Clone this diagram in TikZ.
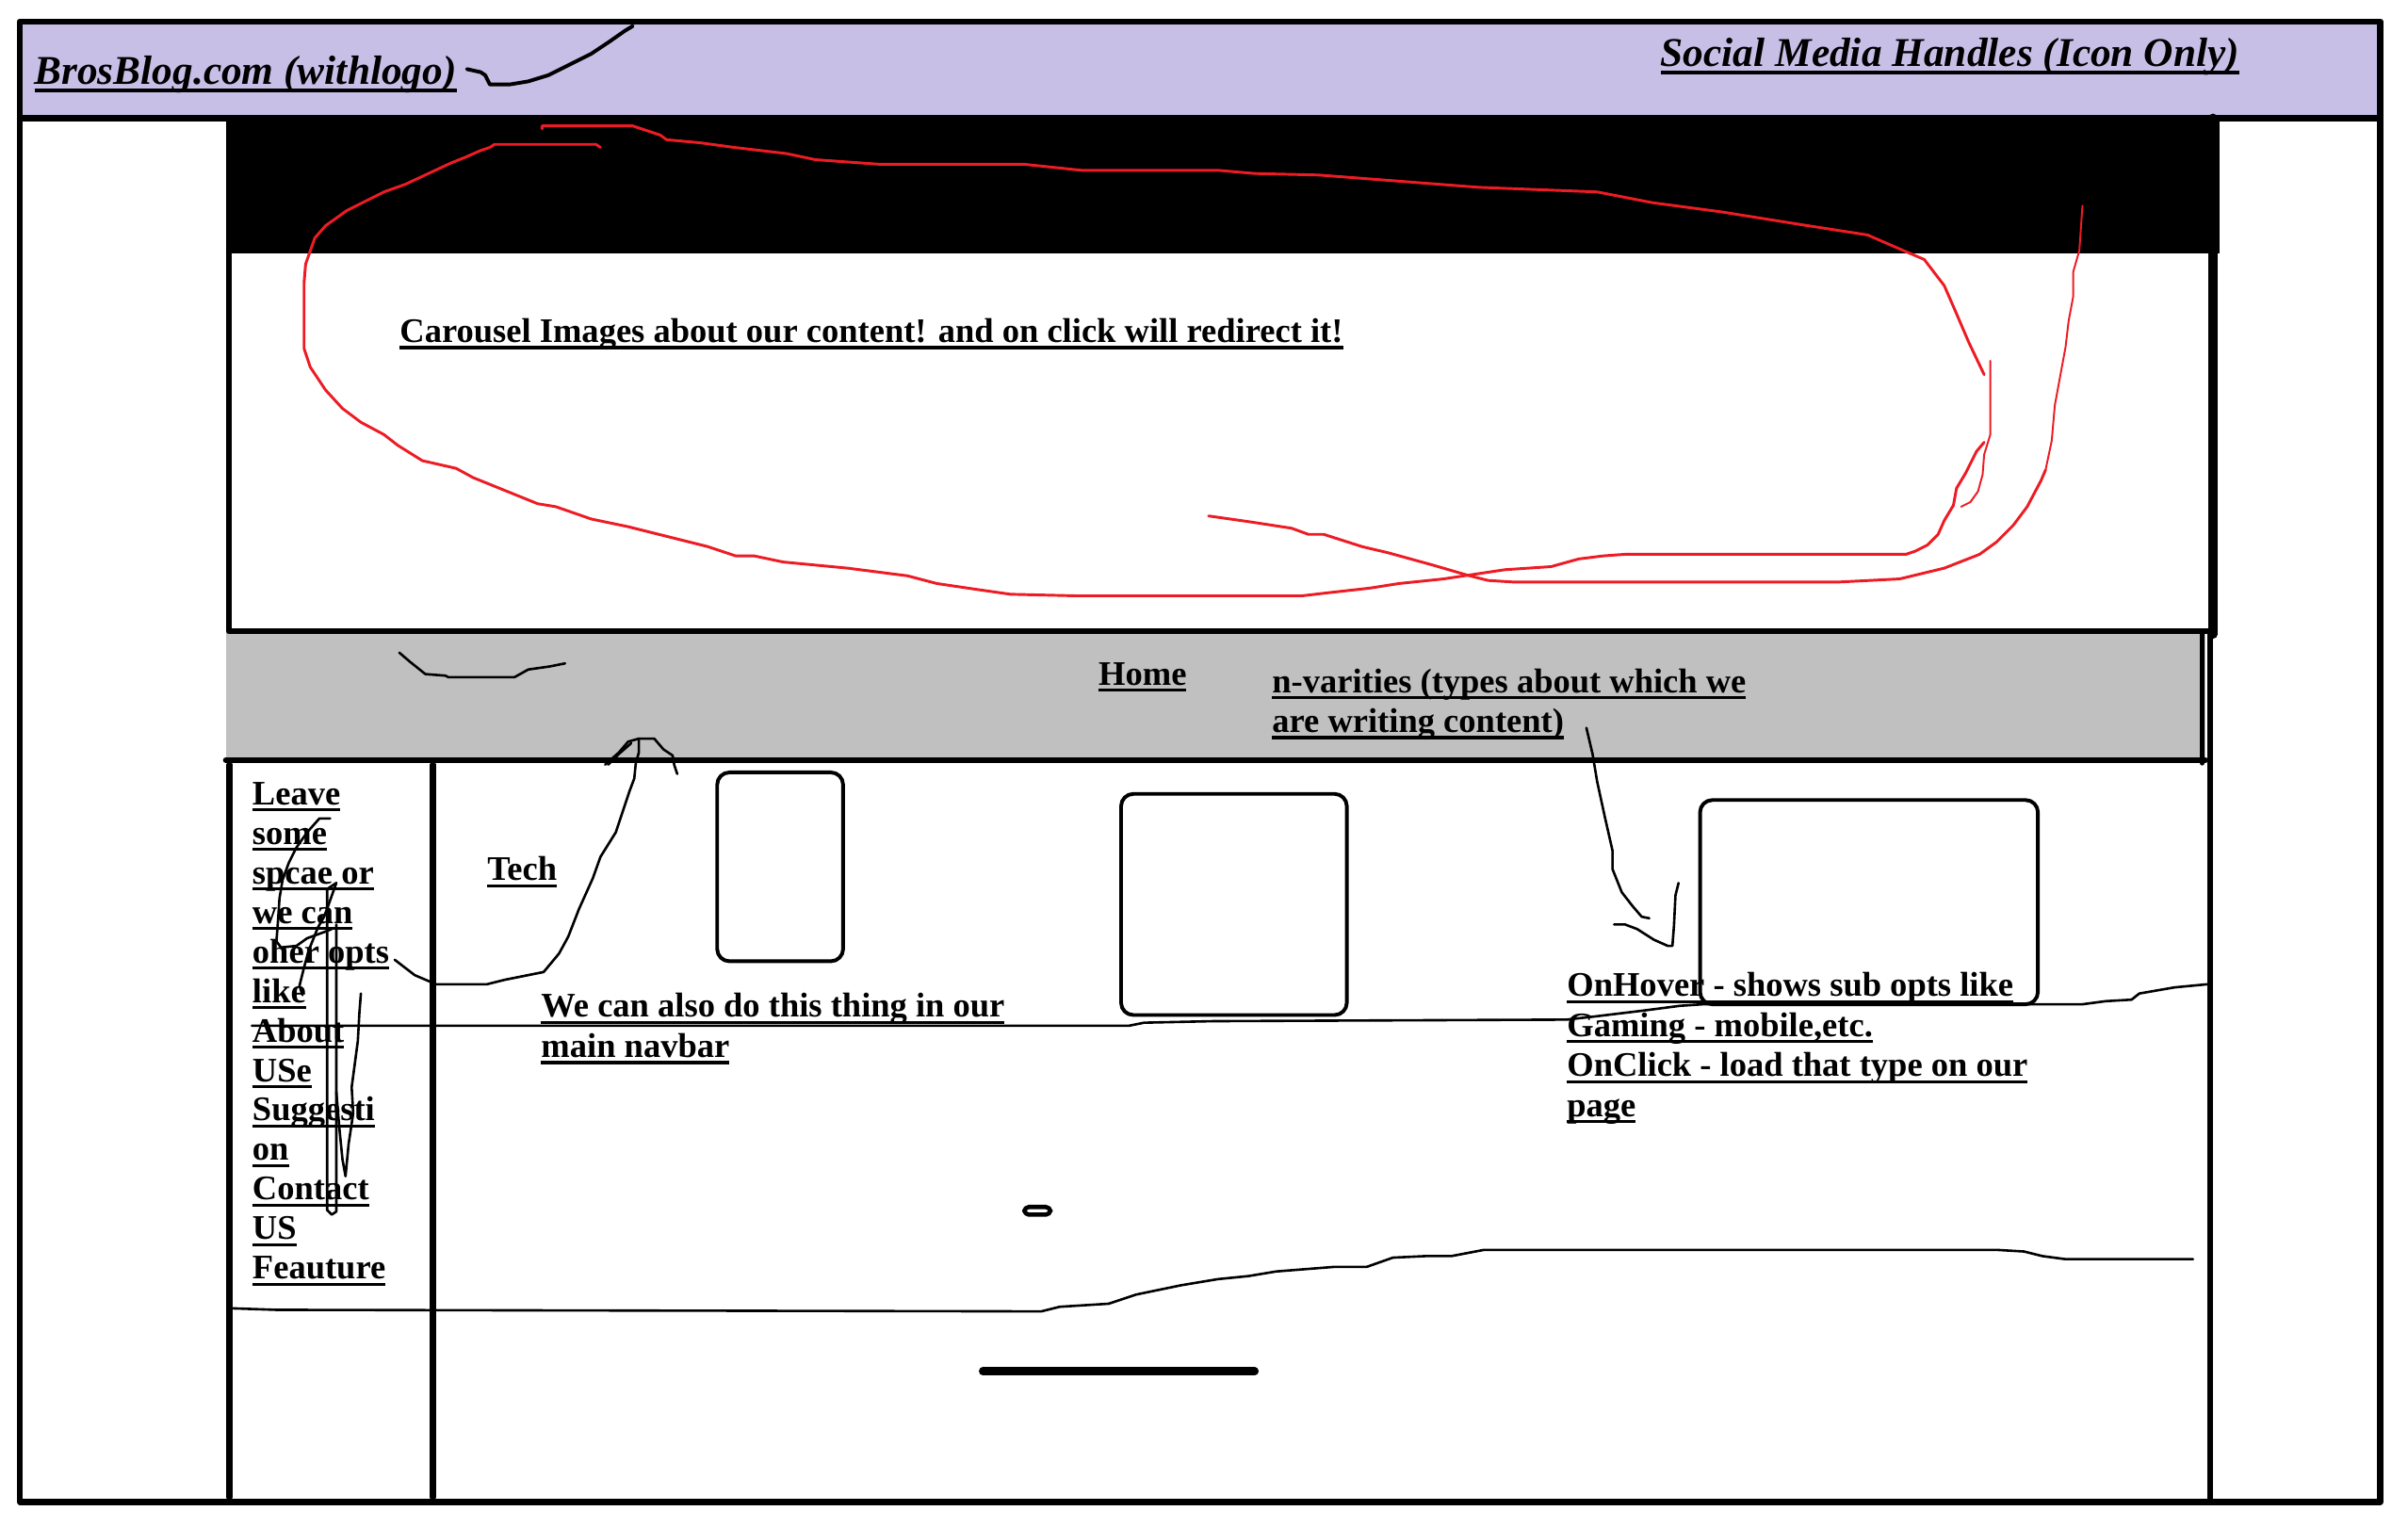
\documentclass[tikz,border=0pt]{standalone}
\usepackage{fontspec}
\setmainfont{Liberation Serif}
\newcommand{\undl}[1]{\leavevmode\setbox0=\hbox{#1}\rlap{\vrule height -1.2pt depth 2.2pt width \wd0}\box0}
\newcommand{\undlh}[1]{\leavevmode\setbox0=\hbox{#1}\rlap{\vrule height -1.4pt depth 2.6pt width \wd0}\box0}
\definecolor{lav}{RGB}{200,191,231}
\definecolor{silvergray}{RGB}{192,192,192}
\definecolor{pred}{RGB}{237,28,36}
\tikzset{
  txt/.style={anchor=base west, inner sep=0pt, font=\bfseries\fontsize{11.2}{13}\selectfont},
  headtxt/.style={anchor=base west, inner sep=0pt, font=\bfseries\itshape\fontsize{13.3}{15}\selectfont},
  heavy/.style={line width=2pt},
  medium/.style={line width=1.8pt},
  card/.style={line width=1.2pt, rounded corners=4pt},
  thinline/.style={line width=0.8pt},
  scribble/.style={line width=0.8pt},
  redmark/.style={draw=pred, line width=0.9pt},
  redthin/.style={draw=pred, line width=0.6pt}
}
\begin{document}
\begin{tikzpicture}[x=0.5pt,y=-0.5pt,line join=round,line cap=round]
\useasboundingbox (0,0) rectangle (1568,994);
\fill[white] (0,0) rectangle (1568,994);
% backgrounds
\fill[lav] (13,14) rectangle (1550,77);
\fill[black] (147,77) rectangle (1445,165);
\fill[silvergray] (147,411) rectangle (1436,495);

% texts
\node[headtxt] (brand) at (22,55) {\undlh{BrosBlog.com (withlogo)}};
\node[headtxt] (social) at (1081,43) {\undlh{Social Media Handles (Icon Only)}};
\node[txt] (carousel) at (260,223) {\undl{Carousel Images about our content! and on click will redirect it!}};
\node[txt] (home) at (715,446) {\undl{Home}};
\node[txt] (nvar1) at (828,451) {\undl{n-varities (types about which we}};
\node[txt] (nvar2) at (828,477) {\undl{are writing content)}};
\node[txt] (tech) at (317,573.5) {\undl{Tech}};
\node[txt] (wecan1) at (352,662.5) {\undl{We can also do this thing in our}};
\node[txt] (wecan2) at (352,688.5) {\undl{main navbar}};
\node[txt] (hover1) at (1020,649) {\undl{OnHover - shows sub opts like}};
\node[txt] (hover2) at (1020,675) {\undl{Gaming - mobile,etc.}};
\node[txt] (hover3) at (1020,701) {\undl{OnClick - load that type on our}};
\node[txt] (hover4) at (1020,727) {\undl{page}};
\node[txt] (l1) at (164,524) {\undl{Leave}};
\node[txt] (l2) at (164,549.75) {\undl{some}};
\node[txt] (l3) at (164,575.5) {\undl{spcae or}};
\node[txt] (l4) at (164,601.25) {\undl{we can}};
\node[txt] (l5) at (164,627) {\undl{oher opts}};
\node[txt] (l6) at (164,652.75) {\undl{like}};
\node[txt] (l7) at (164,678.5) {\undl{About}};
\node[txt] (l8) at (164,704.25) {\undl{USe}};
\node[txt] (l9) at (164,730) {\undl{Suggesti}};
\node[txt] (l10) at (164,755.75) {\undl{on}};
\node[txt] (l11) at (164,781.5) {\undl{Contact}};
\node[txt] (l12) at (164,807.25) {\undl{US}};
\node[txt] (l13) at (164,833) {\undl{Feauture}};

% frame and structure
\draw[heavy] (13,14) rectangle (1550,978);
\draw[heavy] (13,77) -- (1550,77);
\draw[heavy] (149,165) -- (149,411) -- (1441,411);
\draw[line width=3pt] (1441,77) -- (1441,413);
\draw[medium] (1439,411) -- (1439,978);
\draw[medium] (147,495) -- (1436,495);
\draw[line width=1.5pt] (1434,411) -- (1434,497);
\draw[heavy] (149.5,498) -- (149.5,975);
\draw[heavy] (282,498) -- (282,975);

% cards
\draw[card] (467,503) rectangle (549,626);
\draw[card] (730,517) rectangle (877,661);
\draw[card] (1107,521) rectangle (1327,654);
\draw[line width=1.4pt, rounded corners=1.5pt] (667,786) rectangle (684,791);
\draw[line width=2.6pt] (640,893) -- (817,893);

% thin horizontal lines
\draw[thinline] (164,668) -- (735,668) -- (745,666) -- (790,665) -- (1020,664) -- (1038,662) -- (1071,658) -- (1094,655) -- (1109,654) -- (1356,654) -- (1371,652) -- (1388,651) -- (1393,647) -- (1416,643) -- (1437,641);
\draw[thinline] (151,852) -- (180,853) -- (678,854) -- (690,851) -- (722,849) -- (740,843) -- (769,837) -- (793,833) -- (813,831) -- (831,828) -- (869,825) -- (890,825) -- (907,819) -- (928,818) -- (945,818) -- (966,814) -- (1301,814) -- (1318,815) -- (1330,818) -- (1345,820) -- (1428,820);

% black scribbles
\draw[line width=1.2pt] (304,45) -- (313,47) -- (316,49) -- (319,55) -- (332,55) -- (344,53) -- (357,49) -- (369,43) -- (385,35) -- (397,27) -- (407,20) -- (412,17);
\draw[scribble] (260,425) -- (267,431) -- (277,439) -- (290,440) -- (292,441) -- (335,441) -- (344,436) -- (358,434) -- (368,432);
\draw[scribble] (394,498) -- (403,490) -- (409,483) -- (416,481) -- (426,481) -- (432,488) -- (438,492) -- (439,498) -- (441,504);
\draw[scribble] (396,498) -- (403,491) -- (411,484);
\draw[scribble] (257,625) -- (270,635) -- (284,641) -- (317,641) -- (329,638) -- (354,633) -- (364,621) -- (370,610) -- (377,592) -- (386,572) -- (391,558) -- (401,542) -- (405,530) -- (410,515) -- (413,507) -- (414,497) -- (416,490) -- (416,481);
\draw[scribble] (215,533) -- (208,533) -- (200,542) -- (193,552) -- (188,562) -- (184,573) -- (182,585) -- (181,600) -- (180,613) -- (183,617) -- (193,616) -- (200,611) -- (211,607) -- (216,605);
\draw[scribble] (219,575) -- (213,579) -- (213,788) -- (216,791) -- (219,789) -- (219,602);
\draw[scribble] (195,642) -- (198,630) -- (201,619) -- (207,604) -- (211,597) -- (214,589) -- (219,575);
\draw[scribble] (195,642) -- (197,648);
\draw[scribble] (235,647) -- (234,660) -- (233,678) -- (229,708) -- (230,725) -- (227,745) -- (225,766) -- (223,755) -- (221,735) -- (219,711);
\draw[scribble] (1033,474) -- (1037,491) -- (1040,509) -- (1045,532) -- (1050,554) -- (1050,566) -- (1056,581) -- (1063,590) -- (1069,597) -- (1074,598);
\draw[scribble] (1051,602) -- (1058,602) -- (1066,605) -- (1077,612) -- (1086,616) -- (1089,616) -- (1090,603) -- (1091,583) -- (1093,575);

% red marks
\draw[redmark] (353,84) -- (353,82) -- (412,82) -- (430,88) -- (434,91) -- (456,93) -- (478,96) -- (512,100) -- (531,104) -- (573,107) -- (667,107) -- (705,111) -- (794,111) -- (817,113) -- (859,114) -- (963,122) -- (1040,125) -- (1076,132) -- (1121,138) -- (1171,146) -- (1216,153) -- (1239,163) -- (1253,169) -- (1266,186) -- (1273,202) -- (1282,223) -- (1292,244);
\draw[redmark] (391,96) -- (388,94) -- (322,94) -- (319,96) -- (313,98) -- (304,102) -- (294,106) -- (264,120) -- (250,125) -- (238,131) -- (226,137) -- (212,147) -- (205,155) -- (199,172) -- (198,184) -- (198,227) -- (202,239) -- (212,254) -- (223,266) -- (235,275) -- (250,283) -- (259,290) -- (275,300) -- (297,305) -- (308,311) -- (350,328) -- (362,330) -- (385,338) -- (409,343) -- (461,356) -- (479,362) -- (491,362) -- (510,366) -- (531,368) -- (552,370) -- (591,375) -- (610,380) -- (637,384) -- (658,387) -- (700,388) -- (848,388) -- (865,386) -- (892,383) -- (911,380) -- (940,377) -- (980,371) -- (1010,369) -- (1028,364) -- (1044,362) -- (1058,361) -- (1241,361) -- (1247,359) -- (1255,355) -- (1262,348) -- (1266,339) -- (1272,329) -- (1274,318) -- (1280,308) -- (1287,294) -- (1292,288);
\draw[redthin] (1296,235) -- (1296,283) -- (1292,296) -- (1291,309) -- (1288,320) -- (1283,327) -- (1277,330);
\draw[redmark] (787,336) -- (815,340) -- (841,344) -- (852,348) -- (862,348) -- (887,356) -- (904,360) -- (933,368) -- (957,375) -- (969,378) -- (985,379) -- (1198,379) -- (1237,377) -- (1266,370) -- (1289,361) -- (1300,353) -- (1311,342) -- (1320,330) -- (1329,313) -- (1332,306);
\draw[redthin] (1332,306) -- (1336,287) -- (1338,264) -- (1345,226) -- (1347,209) -- (1350,193) -- (1350,177) -- (1354,163) -- (1356,134);
\end{tikzpicture}
\end{document}
